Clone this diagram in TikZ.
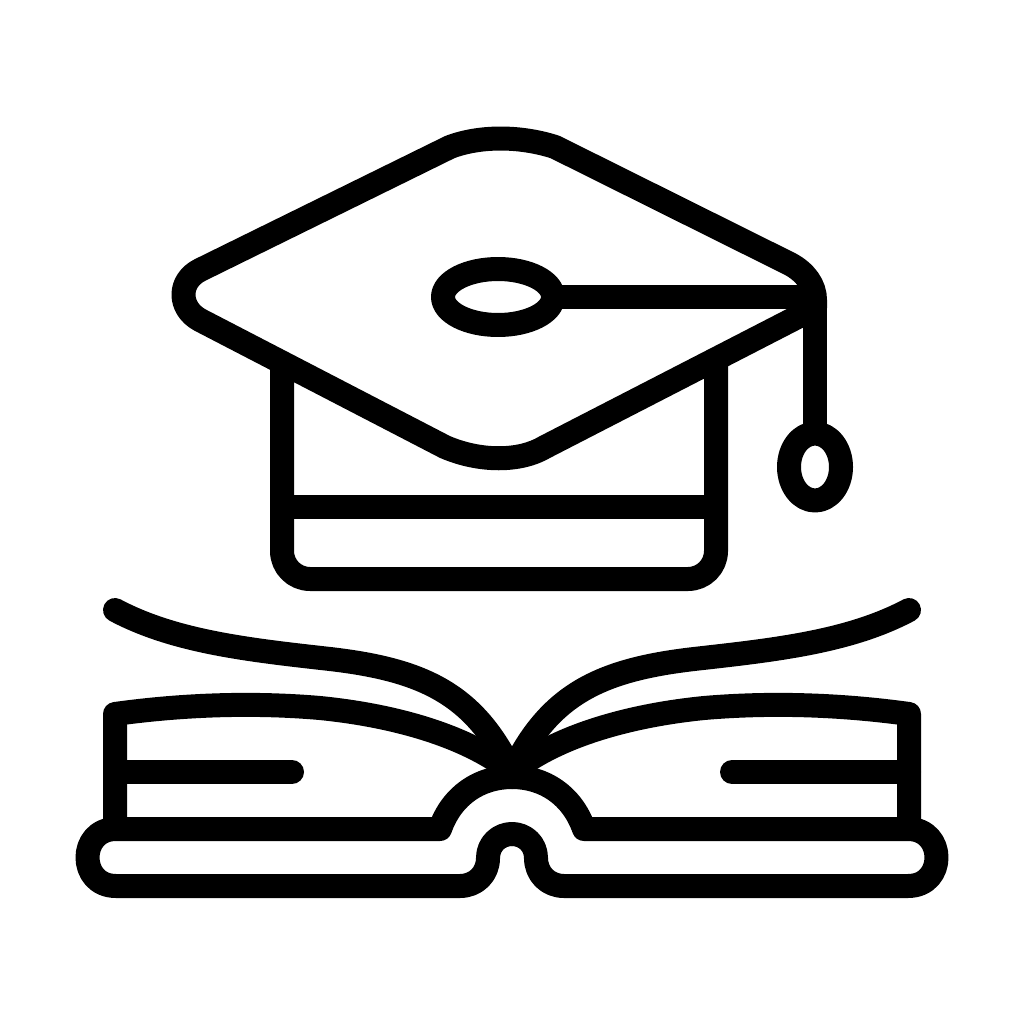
\documentclass[tikz,border=0pt]{standalone}
\tikzset{
  ink/.style={draw=black,line width=24pt,line join=round,line cap=butt,fill=none},
  inkround/.style={ink,line cap=round},
}
\newcommand{\bookhalf}{%
  % flying page
  \draw[inkround] (115,610) .. controls (175,642) and (250,650) .. (330,659)
     .. controls (425,670) and (475,695) .. (512,772);
  % page block top and spine side
  \draw[ink] (512,772) .. controls (470,738) and (400,716) .. (320,708)
     .. controls (250,702) and (180,705) .. (115,714) -- (115,829);
  % text line
  \draw[inkround] (115,772) -- (292,772);
  % cover slab and arch
  \draw[inkround] (512,777) .. controls (480,777) and (452,795) .. (440,829) -- (116,829)
     .. controls (78,829) and (78,886) .. (116,886) -- (460,886)
     .. controls (476,886) and (488,874) .. (488,858)
     .. controls (488,844) and (499,834) .. (512,834);
}
\begin{document}
\begin{tikzpicture}[x=1pt,y=-1pt]
\useasboundingbox (0,0) rectangle (1024,1024);
\fill[white] (0,0) rectangle (1024,1024);
% cap walls
\draw[ink,rounded corners=28pt] (282,362) -- (282,579) -- (716,579) -- (716,362);
\draw[ink] (282,507) -- (716,507);
% board
\draw[ink] (815,308) -- (815,300) .. controls (815,285) and (805,272) .. (790,264)
  -- (555,147) .. controls (520,135.7) and (480,135.7) .. (450,147)
  -- (200,270) .. controls (178,281) and (178,308) .. (200,320)
  -- (445,447) .. controls (480,462) and (520,462) .. (545,447) -- (815,308);
% tassel cord
\draw[ink] (815,300) -- (815,435);
\draw[ink] (815,467) ellipse[x radius=26,y radius=33.5];
% button
\draw[ink] (553,297) -- (815,297);
\draw[ink] (498,297) ellipse[x radius=55,y radius=28];
% book
\bookhalf
\begin{scope}[xshift=1024pt,xscale=-1]
\bookhalf
\end{scope}
\end{tikzpicture}
\end{document}
